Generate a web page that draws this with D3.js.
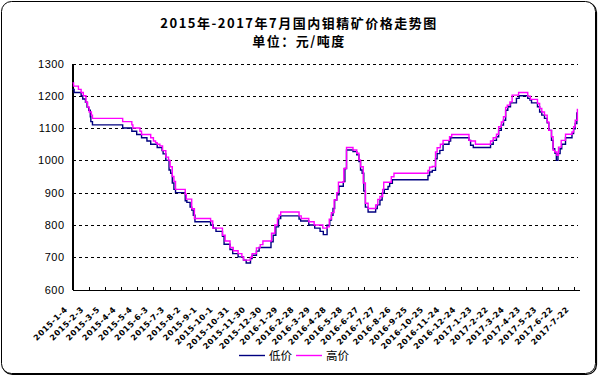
<!DOCTYPE html>
<html lang="zh">
<head>
<meta charset="utf-8">
<title>钼精矿价格走势图</title>
<script src="https://cdn.jsdelivr.net/npm/d3@7"></script>
<style>
  body { margin: 0; background: #fff; }
  .grid line { stroke: #000; stroke-dasharray: 3,3; shape-rendering: crispEdges; }
  .xaxis path, .xaxis line, .yaxis path { stroke: #000; shape-rendering: crispEdges; }
  .xaxis text { font-family: "DejaVu Sans", sans-serif; font-weight: bold; font-size: 8px; letter-spacing: 0.5px; fill: #000; }
  .yaxis text { font-family: "Liberation Sans", Arial, sans-serif; font-size: 11px; letter-spacing: 0.5px; fill: #000; }
</style>
</head>
<body>
<script>
var w = 598, h = 376;

// x axis tick labels (every 30 days)
var tickLabels = ["2015-1-4","2015-2-3","2015-3-5","2015-4-4","2015-5-4","2015-6-3","2015-7-3","2015-8-2",
  "2015-9-1","2015-10-1","2015-10-31","2015-11-30","2015-12-30","2016-1-29","2016-2-28","2016-3-29",
  "2016-4-28","2016-5-28","2016-6-27","2016-7-27","2016-8-26","2016-9-25","2016-10-25","2016-11-24",
  "2016-12-24","2017-1-23","2017-2-22","2017-3-24","2017-4-23","2017-5-23","2017-6-22","2017-7-22"];
var yTicks = [600, 700, 800, 900, 1000, 1100, 1200, 1300];

// 低价 (low price) change dates and values
var lowDates = ["2015-01-04","2015-01-07","2015-01-20","2015-01-23","2015-01-28","2015-01-31","2015-02-03","2015-02-06",
  "2015-02-07","2015-02-10","2015-04-07","2015-04-24","2015-05-03","2015-05-12","2015-05-22","2015-05-29",
  "2015-06-10","2015-06-19","2015-06-21","2015-06-26","2015-07-02","2015-07-05","2015-07-08","2015-07-11",
  "2015-07-14","2015-08-01","2015-08-04","2015-08-10","2015-08-13","2015-08-16","2015-08-19","2015-09-17",
  "2015-09-22","2015-09-27","2015-10-09","2015-10-12","2015-10-23","2015-10-28","2015-11-07","2015-11-17",
  "2015-11-22","2015-11-30","2015-12-03","2015-12-11","2015-12-16","2016-01-07","2016-01-11","2016-01-16",
  "2016-01-21","2016-01-25","2016-02-28","2016-03-02","2016-03-17","2016-03-28","2016-04-07","2016-04-13",
  "2016-04-20","2016-04-25","2016-04-28","2016-05-01","2016-05-04","2016-05-08","2016-05-12","2016-05-20",
  "2016-05-23","2016-05-26","2016-06-07","2016-06-14","2016-06-18","2016-06-21","2016-06-24","2016-06-27",
  "2016-06-30","2016-07-05","2016-07-19","2016-07-22","2016-07-27","2016-07-31","2016-08-04","2016-08-11",
  "2016-08-14","2016-08-19","2016-10-24","2016-10-27","2016-11-01","2016-11-07","2016-11-10","2016-11-15",
  "2016-11-21","2016-12-02","2016-12-05","2017-01-08","2017-01-11","2017-01-16","2017-02-17","2017-02-22",
  "2017-02-28","2017-03-04","2017-03-09","2017-03-13","2017-03-17","2017-03-21","2017-03-26","2017-04-06",
  "2017-04-11","2017-04-27","2017-05-01","2017-05-04","2017-05-15","2017-05-19","2017-05-23","2017-05-28",
  "2017-06-02","2017-06-05","2017-06-10","2017-06-13","2017-06-16","2017-06-19","2017-06-22","2017-06-26",
  "2017-06-29","2017-07-06","2017-07-18","2017-07-21","2017-07-24","2017-07-27","2017-07-29"];
var lowPrices = [1220,1210,1200,1190,1180,1165,1155,1135,
  1120,1110,1100,1090,1080,1070,1060,1050,
  1040,1030,1020,1000,970,960,930,910,
  900,875,870,855,846,830,810,800,
  790,780,765,740,724,711,701,691,
  682,696,706,719,730,748,768,794,
  820,828,818,812,800,790,780,770,
  799,815,830,851,877,893,920,934,
  975,1032,1027,1017,996,970,960,905,
  855,840,851,862,877,898,910,919,
  929,940,953,964,969,1005,1021,1031,
  1050,1060,1070,1062,1047,1040,1050,1062,
  1073,1093,1109,1124,1155,1166,1178,1192,
  1200,1192,1187,1178,1166,1150,1140,1130,
  1116,1093,1062,1036,1023,1000,1021,1036,
  1050,1070,1083,1098,1114,1147,1147];

// 高价 (high price) change dates and values
var highDates = ["2015-01-04","2015-01-06","2015-01-15","2015-01-20","2015-01-24","2015-01-29","2015-02-01","2015-02-04",
  "2015-02-08","2015-02-10","2015-04-07","2015-04-24","2015-04-26","2015-05-09","2015-05-12","2015-05-29",
  "2015-06-03","2015-06-07","2015-06-10","2015-06-15","2015-06-20","2015-06-26","2015-07-01","2015-07-04",
  "2015-07-08","2015-07-11","2015-07-14","2015-08-01","2015-08-03","2015-08-13","2015-08-18","2015-09-17",
  "2015-09-21","2015-10-09","2015-10-14","2015-10-23","2015-10-29","2015-11-07","2015-11-14","2015-11-17",
  "2015-11-30","2015-12-03","2015-12-11","2015-12-18","2015-12-23","2016-01-08","2016-01-14","2016-01-19",
  "2016-01-22","2016-01-25","2016-02-28","2016-03-03","2016-03-17","2016-03-27","2016-04-12","2016-04-20",
  "2016-04-24","2016-04-28","2016-05-03","2016-05-08","2016-05-11","2016-05-21","2016-05-26","2016-06-07",
  "2016-06-14","2016-06-18","2016-06-21","2016-06-26","2016-06-30","2016-07-05","2016-07-19","2016-07-23",
  "2016-07-27","2016-08-01","2016-08-03","2016-08-17","2016-08-22","2016-10-24","2016-10-27","2016-11-01",
  "2016-11-07","2016-11-10","2016-11-16","2016-11-21","2016-12-03","2016-12-07","2017-01-08","2017-01-11",
  "2017-01-20","2017-02-17","2017-02-22","2017-02-28","2017-03-04","2017-03-09","2017-03-13","2017-03-17",
  "2017-03-20","2017-03-25","2017-03-29","2017-04-10","2017-04-27","2017-05-02","2017-05-15","2017-05-19",
  "2017-05-23","2017-05-28","2017-06-02","2017-06-05","2017-06-10","2017-06-13","2017-06-16","2017-06-20",
  "2017-06-23","2017-06-28","2017-07-06","2017-07-18","2017-07-21","2017-07-24","2017-07-28","2017-07-29"];
var highPrices = [1240,1230,1220,1210,1200,1180,1165,1150,
  1140,1130,1120,1110,1100,1090,1080,1070,
  1060,1055,1050,1045,1030,1010,1000,980,
  950,935,910,895,880,850,820,812,
  790,768,750,730,720,711,701,691,
  700,711,729,739,750,774,800,820,
  830,840,828,820,810,800,790,794,
  818,838,877,900,932,975,1040,1032,
  1022,1001,980,930,867,851,862,879,
  888,910,932,949,960,969,979,981,
  1026,1039,1050,1062,1073,1080,1062,1060,
  1050,1060,1070,1081,1104,1119,1135,1164,
  1171,1181,1202,1210,1199,1189,1176,1161,
  1150,1140,1119,1093,1073,1031,1026,1016,
  1041,1062,1081,1088,1104,1124,1158,1158];

var parse = d3.timeParse("%Y-%m-%d");
var parseTick = d3.timeParse("%Y-%-m-%-d");
var low = lowDates.map(function (d, i) { return [parse(d), lowPrices[i]]; });
var high = highDates.map(function (d, i) { return [parse(d), highPrices[i]]; });
var tickDates = tickLabels.map(function (d) { return parseTick(d); });

var svg = d3.select("body").append("svg")
  .attr("width", w)
  .attr("height", h);

// outer frame with a slight shadow
svg.append("rect")
  .attr("x", 2.5).attr("y", 2.5)
  .attr("width", 594).attr("height", 372)
  .attr("rx", 10)
  .attr("fill", "none").attr("stroke", "#000").attr("stroke-width", 1.2);
svg.append("rect")
  .attr("x", 1.5).attr("y", 1.5)
  .attr("width", 594).attr("height", 372)
  .attr("rx", 10)
  .attr("fill", "#fff").attr("stroke", "#000").attr("stroke-width", 1);

var xScale = d3.scaleTime()
  .domain([parse("2015-01-04"), parse("2017-07-31")])
  .range([72.5, 579]);

var yScale = d3.scaleLinear()
  .domain([600, 1300])
  .range([289.5, 63.5]);

// dashed gridlines
svg.append("g")
  .attr("class", "grid")
  .selectAll("line")
  .data(yTicks.slice(1))
  .enter().append("line")
  .attr("x1", xScale.range()[0]).attr("x2", 578)
  .attr("y1", function (d) { return Math.round(yScale(d)) + 0.5; })
  .attr("y2", function (d) { return Math.round(yScale(d)) + 0.5; });

// y axis
var yAxis = svg.append("g")
  .attr("class", "yaxis")
  .attr("transform", "translate(" + xScale.range()[0] + ",0)")
  .call(d3.axisLeft(yScale).tickValues(yTicks).tickSize(0).tickPadding(8).tickFormat(d3.format("d")));
yAxis.select(".domain").attr("stroke-width", 1.2);

// x axis
var xAxis = svg.append("g")
  .attr("class", "xaxis")
  .attr("transform", "translate(0," + Math.round(yScale(600)) + ")")
  .call(d3.axisBottom(xScale)
    .tickValues(tickDates)
    .tickSize(-3)
    .tickSizeOuter(0)
    .tickFormat(function (d, i) { return tickLabels[i]; }));
xAxis.select(".domain").attr("stroke-width", 1.2);
xAxis.selectAll("text")
  .attr("text-anchor", "end")
  .attr("x", 0).attr("y", 0).attr("dy", 0)
  .attr("transform", "translate(-5,20) rotate(-45)");

// price lines
var line = d3.line()
  .x(function (d) { return xScale(d[0]); })
  .y(function (d) { return yScale(d[1]); })
  .curve(d3.curveStepAfter);

svg.append("path")
  .datum(low)
  .attr("fill", "none")
  .attr("stroke", "#000080")
  .attr("stroke-width", 1.4)
  .attr("d", line);

svg.append("path")
  .datum(high)
  .attr("fill", "none")
  .attr("stroke", "#ff00ff")
  .attr("stroke-width", 1.4)
  .attr("d", line);

// titles
svg.append("text")
  .text("2015年-2017年7月国内钼精矿价格走势图")
  .attr("x", 299).attr("y", 27.5)
  .attr("text-anchor", "middle")
  .style("font-family", "'Noto Sans CJK SC', sans-serif")
  .style("font-weight", "bold")
  .style("font-size", "13px")
  .style("letter-spacing", "1.5px");

svg.append("text")
  .text("单位：元/吨度")
  .attr("x", 299).attr("y", 46)
  .attr("text-anchor", "middle")
  .style("font-family", "'Noto Sans CJK SC', sans-serif")
  .style("font-weight", "bold")
  .style("font-size", "13px")
  .style("letter-spacing", "1.5px");

// legend
var legend = [["低价", "#000080", 239], ["高价", "#ff00ff", 296]];
legend.forEach(function (l) {
  svg.append("line")
    .attr("x1", l[2]).attr("x2", l[2] + 26)
    .attr("y1", 355.5).attr("y2", 355.5)
    .attr("stroke", l[1]).attr("stroke-width", 1.4);
  svg.append("text")
    .text(l[0])
    .attr("x", l[2] + 30).attr("y", 360)
    .style("font-family", "'Noto Sans CJK SC', sans-serif")
    .style("font-size", "11.5px");
});
</script>
</body>
</html>
